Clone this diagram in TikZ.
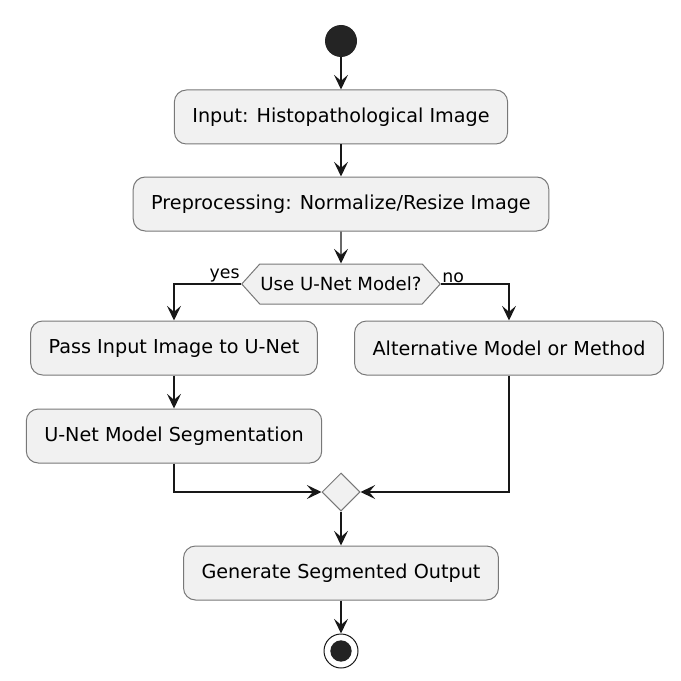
\documentclass[tikz,border=0pt]{standalone}
\usepackage{fontspec}
\setmainfont{DejaVu Sans}
\usetikzlibrary{arrows.meta,shapes.geometric,shapes.symbols}

\definecolor{actfill}{RGB}{241,241,241}
\definecolor{actline}{RGB}{24,24,24}
\definecolor{actborder}{RGB}{120,120,120}

\tikzset{every picture/.style={line width=0.75pt}}
\tikzset{
  actbox/.style={draw=actborder, fill=actfill, rounded corners=9pt, minimum height=40.5pt,
    inner xsep=13.5pt, font=\fontsize{14.4}{17}\selectfont},
  flow/.style={draw=actline, line width=1pt, -{Stealth[length=11pt,width=10.5pt,inset=4.5pt]}},
  guard/.style={font=\fontsize{13}{15}\selectfont, inner sep=0.75pt},
}

\begin{document}
\begin{tikzpicture}[x=0.75pt,y=0.75pt,yscale=-1,xscale=1]
\useasboundingbox (0,0) rectangle (681,681); %set diagram to 681 x 681

%Start point
\node [circle, fill=actline!95, minimum size=24pt, inner sep=0pt] (start) at (341,41) {};
%Activities
\node [actbox] (input) at (341,117) {Input: Histopathological Image};
\node [actbox] (prep) at (341,204) {Preprocessing: Normalize/Resize Image};
%Decision
\node [signal, signal to=west and east, signal from=nowhere, signal pointer angle=96, draw=actborder,
  fill=actfill, minimum height=30pt, inner xsep=0.5pt, font=\fontsize{13.6}{16}\selectfont] (usenet) at (341,284) {Use U-Net Model?};
\node [actbox] (pass) at (174,348) {Pass Input Image to U-Net};
\node [actbox] (alt) at (509,348) {Alternative Model or Method};
\node [actbox] (seg) at (174,436) {U-Net Model Segmentation};
%Merge
\node [diamond, draw=actborder, fill=actfill, minimum size=28.5pt, inner sep=0pt] (merge) at (341,492) {};
\node [actbox] (gen) at (341,573) {Generate Segmented Output};
%End point
\node [circle, draw=actline, fill=white, minimum size=25.5pt, inner sep=0pt] (stop) at (341,651) {};
\fill [actline!95] (stop.center) circle (8pt);

%Connectors
\draw [flow] (start) -- (input);
\draw [flow] (input) -- (prep);
\draw [flow] (prep) -- (usenet);
\draw [flow] (usenet.west) -| (pass);
\draw [flow] (usenet.east) -| (alt);
\draw [flow] (pass) -- (seg);
\draw [flow] (seg) |- (merge);
\draw [flow] (alt) |- (merge);
\draw [flow] (merge) -- (gen);
\draw [flow] (gen) -- (stop);

% Guard labels
\node [guard, anchor=south east] (yes) at (usenet.west) {yes};
\node [guard, anchor=south west] (no) at (usenet.east) {no};

\end{tikzpicture}
\end{document}
